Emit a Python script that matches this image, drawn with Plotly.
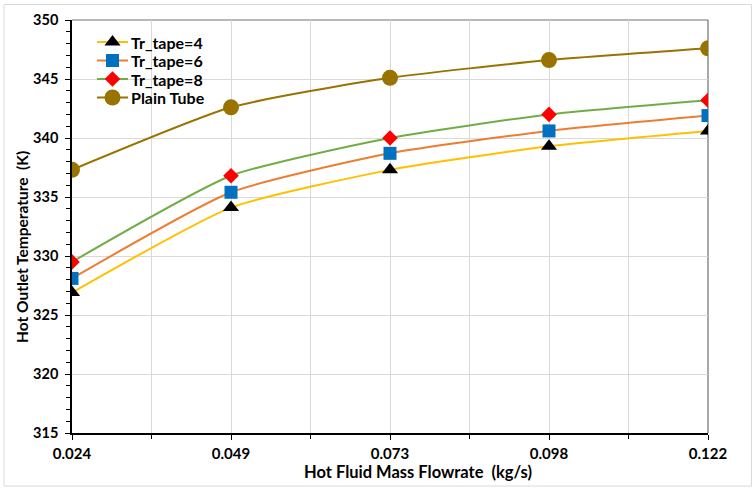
import plotly.graph_objects as go

# Hot fluid mass flowrate categories (kg/s)
flow_labels = ["0.024", "0.049", "0.073", "0.098", "0.122"]

# Hot outlet temperature (K) for each configuration
tr_tape_4 = [326.9, 334.1, 337.3, 339.3, 340.6]
tr_tape_6 = [328.1, 335.4, 338.7, 340.6, 341.9]
tr_tape_8 = [329.5, 336.8, 340.0, 342.0, 343.2]
plain_tube = [337.3, 342.6, 345.1, 346.6, 347.6]

series_names = ["Tr_tape=4", "Tr_tape=6", "Tr_tape=8", "Plain Tube"]
y_ticks = [315, 320, 325, 330, 335, 340, 345, 350]

FONT = "Lato"
xpos = list(range(len(flow_labels)))

styles = [
    ("#FFC000", "#000000", "triangle-up", 14),
    ("#ED7D31", "#0070C0", "square", 13),
    ("#70AD47", "#FF0000", "diamond", 12),
    ("#997300", "#997300", "circle", 16),
]
all_values = [tr_tape_4, tr_tape_6, tr_tape_8, plain_tube]

L, R, T, B = 72, 45, 20, 55
W, H = 753, 488
pw, ph = W - L - R, H - T - B

def px_x(p):
    return (p - L) / pw

def px_y(p):
    return (H - B - p) / ph

fig = go.Figure()
for name, vals, (lc, mc, sym, sz) in zip(series_names, all_values, styles):
    fig.add_trace(go.Scatter(
        x=xpos, y=vals, name=name, mode="lines+markers", showlegend=False,
        line=dict(color=lc, width=2, shape="spline", smoothing=0.55),
        marker=dict(color=mc, symbol=sym, size=sz, line=dict(width=0)),
    ))

# legend key: short line sample with marker, drawn on an overlay axis in pixel units
key_rows = [42, 60.5, 79, 97.5]
for name, (lc, mc, sym, sz), ry in zip(series_names, styles, key_rows):
    fig.add_trace(go.Scatter(
        x=[97, 128], y=[ry, ry], mode="lines", showlegend=False, hoverinfo="skip",
        line=dict(color=lc, width=2), xaxis="x2", yaxis="y2",
    ))
    fig.add_trace(go.Scatter(
        x=[112.5], y=[ry], mode="markers", showlegend=False, hoverinfo="skip",
        marker=dict(color=mc, symbol=sym, size=sz, line=dict(width=0)),
        xaxis="x2", yaxis="y2",
    ))
    fig.add_annotation(text=name, xref="x2", yref="y2", x=129, y=ry,
                       xanchor="left", yanchor="middle", showarrow=False,
                       font=dict(family=FONT, size=16, weight="bold", color="#000000"))

fig.update_layout(
    width=W, height=H,
    margin=dict(l=L, r=R, t=T, b=B),
    paper_bgcolor="white", plot_bgcolor="white",
    font=dict(family=FONT, color="#000000"),
    showlegend=False,
    xaxis=dict(
        range=[0, len(flow_labels) - 1],
        tickmode="array", tickvals=xpos, ticktext=flow_labels,
        tickfont=dict(family=FONT, size=15, weight="bold"),
        ticks="outside", ticklen=5, tickcolor="#000000",
        showgrid=True, gridcolor="#D9D9D9", gridwidth=1,
        showline=True, linecolor="#000000", linewidth=1.5,
        zeroline=False,
        minor=dict(dtick=0.5, tick0=0, ticks="outside", ticklen=4,
                   tickcolor="#000000", showgrid=True, gridcolor="#D9D9D9"),
        ticklabelstandoff=1,
    ),
    yaxis=dict(
        range=[315, 350],
        tickmode="array", tickvals=y_ticks,
        tickfont=dict(family=FONT, size=14.5, weight="bold"),
        ticks="outside", ticklen=5, tickcolor="#000000",
        showgrid=True, gridcolor="#D9D9D9", gridwidth=1,
        showline=True, linecolor="#000000", linewidth=1.5,
        zeroline=False,
        minor=dict(dtick=1, tick0=315, ticks="outside", ticklen=4,
                   tickcolor="#000000", showgrid=False),
        ticklabelstandoff=4,
    ),
    # overlay axes in page pixels for the legend key
    xaxis2=dict(domain=[0, 1], range=[L, W - R], overlaying="x", visible=False,
                fixedrange=True),
    yaxis2=dict(domain=[0, 1], range=[H - B, T], overlaying="y", visible=False,
                fixedrange=True, anchor="x2"),
)

# plot-area border on the top and right edges
fig.add_shape(type="line", xref="paper", yref="paper", x0=0, x1=1, y0=1, y1=1,
              line=dict(color="#707070", width=1.2), layer="between")
fig.add_shape(type="line", xref="paper", yref="paper", x0=1, x1=1, y0=0, y1=1,
              line=dict(color="#707070", width=1.2), layer="between")

# chart frame
fig.add_shape(type="rect", xref="paper", yref="paper",
              x0=px_x(4), x1=px_x(751.5), y0=px_y(486), y1=px_y(4.5),
              line=dict(color="#D9D9D9", width=1), layer="below")

# axis titles
fig.add_annotation(text="Hot Fluid Mass Flowrate  (kg/s)", xref="paper", yref="paper",
                   x=px_x(418), y=px_y(472), xanchor="center", yanchor="middle",
                   showarrow=False, font=dict(family=FONT, size=16.5, weight="bold"))
fig.add_annotation(text="Hot Outlet Temperature  (K)", xref="paper", yref="paper",
                   x=px_x(22), y=px_y(247), xanchor="center", yanchor="middle",
                   showarrow=False, textangle=-90,
                   font=dict(family=FONT, size=15.5, weight="bold"))

fig.write_html("out.html")
